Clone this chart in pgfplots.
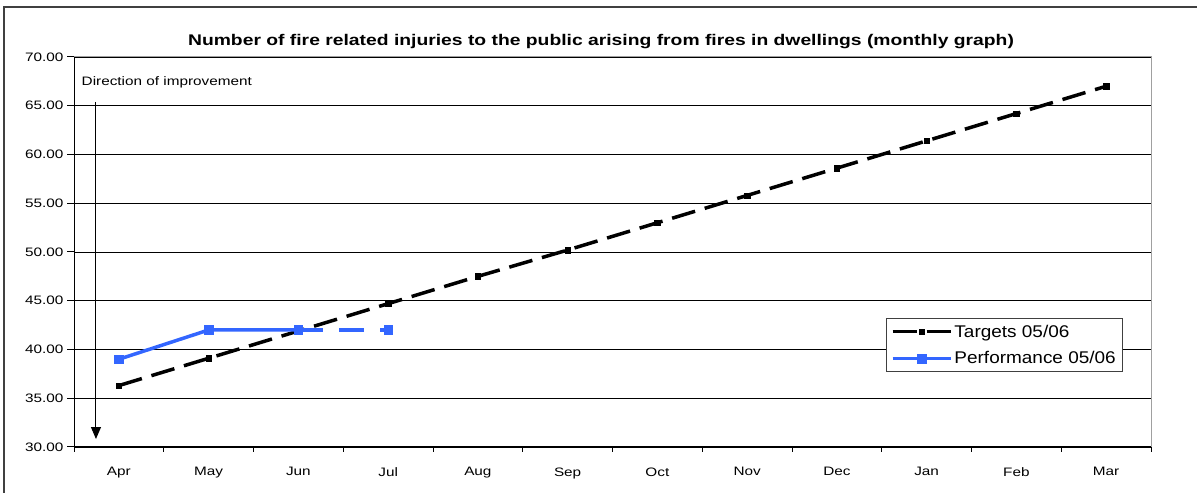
\documentclass[border=0pt]{standalone}
\usepackage{fontspec}
\setmainfont{Liberation Sans}[FakeStretch=1.25]
\newfontfamily\legendfont{Liberation Sans}[FakeStretch=1.12]
\usepackage{pgfplots}
\pgfplotsset{compat=1.18}
\usetikzlibrary{arrows.meta}
\definecolor{perfblue}{HTML}{3366FF}
\definecolor{framegray}{HTML}{404040}
\definecolor{axisgray}{HTML}{A0A0A0}
\begin{document}
\begin{tikzpicture}[x=1bp,y=1bp]
\useasboundingbox (0,0) rectangle (1197,493);
\draw[framegray, line width=1.5bp] (4,0) -- (4,486) -- (1197,486);
\node[anchor=base, inner sep=0pt, font=\fontsize{15.5}{18}\selectfont\bfseries] at (601,447.3)
  {Number of fire related injuries to the public arising from fires in dwellings (monthly graph)};
\begin{axis}[
  at={(74bp,46bp)}, anchor=south west,
  scale only axis, width=1077bp, height=390bp,
  xmin=0.5, xmax=12.5, ymin=30, ymax=70,
  axis line style={axisgray, line width=1bp},
  ytick={30,35,...,70},
  ymajorgrids, major grid style={black, line width=0.8bp},
  xtick={1,...,12},
  xticklabels={Apr,May,Jun,Jul,Aug,Sep,Oct,Nov,Dec,Jan,Feb,Mar},
  minor xtick={0.5,1.5,...,12.5},
  major x tick style={draw=none},
  minor x tick style={black, line width=1bp},
  major y tick style={black, line width=1bp},
  major tick length=7bp, minor tick length=5bp,
  tick align=outside, xtick pos=bottom, ytick pos=left,
  ticklabel style={font=\fontsize{12.3}{14}\selectfont},
  xticklabel style={yshift=-10bp},
  /pgf/number format/assume math mode=true,
  yticklabel style={/pgf/number format/.cd, fixed, fixed zerofill, precision=2},
  legend style={at={(0.754,0.331)}, anchor=north west, draw=framegray, fill=white,
    font=\fontsize{17}{19}\selectfont\legendfont, inner sep=4.5bp, row sep=9bp, line width=0.8bp},
  legend cell align=left,
  legend image code/.code={\draw[#1, mark repeat=2, mark phase=2] plot coordinates {(0bp,0bp)(29bp,0bp)(58bp,0bp)};},
]
\addplot[black, line width=3.5bp, dash pattern=on 24bp off 10bp, mark=square*, mark size=2.7bp, mark options={solid, line width=0.4bp}]
  coordinates {(1,36.3)(2,39.1)(3,41.9)(4,44.7)(5,47.5)(6,50.2)(7,53.0)(8,55.8)(9,58.6)(10,61.4)(11,64.2)(12,67.0)};
\addlegendentry{Targets 05/06}
\addplot[perfblue, line width=3.5bp, mark=square*, mark size=4.3bp, mark options={solid, line width=0.4bp}]
  coordinates {(1,39)(2,42)(3,42)};
\addlegendentry{Performance 05/06}
\addplot[perfblue, line width=3.5bp, dash pattern=on 25bp off 16bp, mark=square*, mark size=4.3bp, mark options={solid, line width=0.4bp}, forget plot]
  coordinates {(3,42)(4,42)};
\draw[black, line width=1.2bp] (rel axis cs:0,1) -- (rel axis cs:0,0) -- (rel axis cs:1,0);
\draw[-{Triangle[width=10bp,length=12bp]}, line width=1bp] (rel axis cs:0.0204,0.885) -- (rel axis cs:0.0204,0.0205);
\node[anchor=base west, inner sep=0pt, font=\fontsize{12.3}{14}\selectfont] at (rel axis cs:0.007,0.928) {Direction of improvement};
\end{axis}
\end{tikzpicture}
\end{document}
